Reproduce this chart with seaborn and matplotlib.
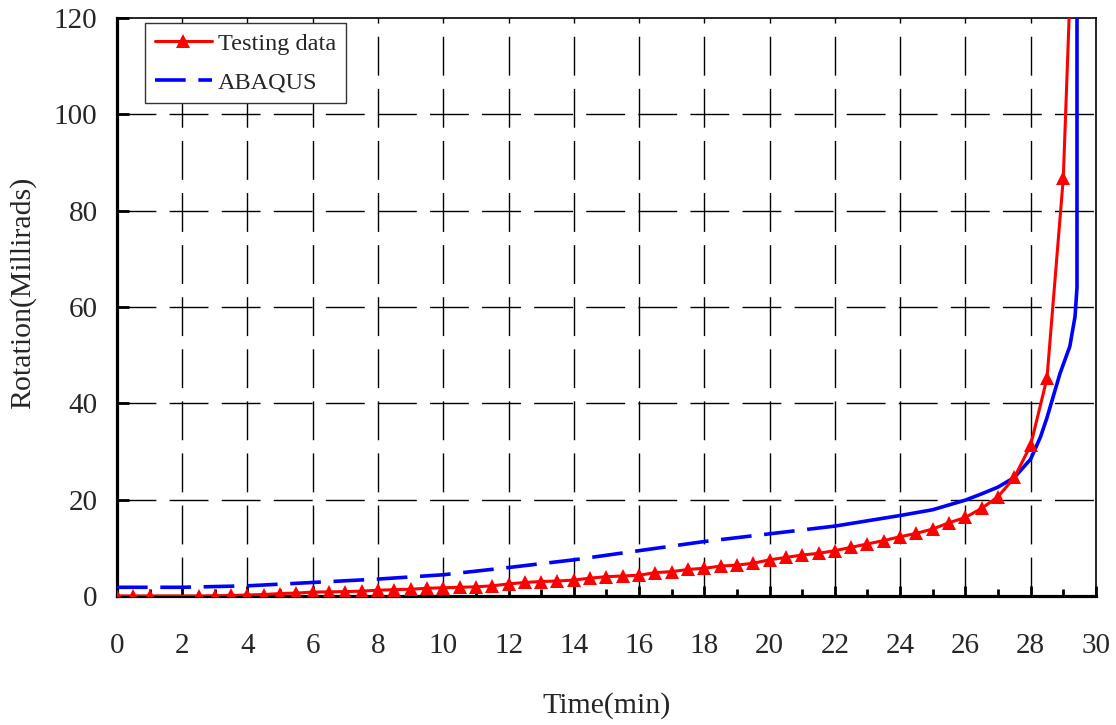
import numpy as np
import pandas as pd
import matplotlib
matplotlib.use("Agg")
import matplotlib.pyplot as plt
from matplotlib.ticker import MultipleLocator
import seaborn as sns

# Measured rotation of the specimen (testing data), sampled every half minute
test_time = [0.0, 0.5, 1.0, 2.5, 3.0, 3.5, 4.0, 4.5, 5.0, 5.5, 6.0, 6.5, 7.0, 7.5,
             8.0, 8.5, 9.0, 9.5, 10.0, 10.5, 11.0, 11.5, 12.0, 12.5, 13.0, 13.5,
             14.0, 14.5, 15.0, 15.5, 16.0, 16.5, 17.0, 17.5, 18.0, 18.5, 19.0,
             19.5, 20.0, 20.5, 21.0, 21.5, 22.0, 22.5, 23.0, 23.5, 24.0, 24.5,
             25.0, 25.5, 26.0, 26.5, 27.0, 27.5, 28.0, 28.5, 29.0, 29.5]
test_rotation = [0.0, 0.0, 0.0, 0.0, 0.05, 0.1, 0.2, 0.3, 0.5, 0.6, 0.8, 0.85, 0.9,
                 1.0, 1.2, 1.3, 1.4, 1.6, 1.7, 1.8, 1.9, 2.1, 2.5, 2.8, 3.0, 3.1,
                 3.3, 3.7, 4.0, 4.15, 4.3, 4.85, 5.05, 5.5, 5.75, 6.2, 6.4, 6.8,
                 7.5, 8.0, 8.5, 8.85, 9.4, 10.1, 10.8, 11.5, 12.3, 13.0, 13.9,
                 15.2, 16.3, 18.2, 20.6, 24.6, 31.3, 45.2, 86.7, 180.0]

# Finite element prediction (ABAQUS)
fe_time = [0.0, 2.0, 4.0, 6.0, 8.0, 10.0, 12.0, 14.0, 16.0, 18.0, 20.0, 22.0,
           24.0, 25.0, 26.0, 26.5, 27.0, 27.5, 28.0, 28.3, 28.5, 28.9, 29.2,
           29.36, 29.42, 29.42]
fe_rotation = [1.8, 1.8, 2.1, 2.8, 3.5, 4.4, 5.9, 7.5, 9.4, 11.3, 12.9, 14.5,
               16.7, 17.9, 19.9, 21.2, 22.6, 24.6, 28.4, 33.0, 37.0, 46.2, 51.8,
               58.0, 64.0, 130.0]

x_ticks = list(range(0, 31, 2))
y_ticks = list(range(0, 121, 20))

sns.set_theme(style="white")
plt.rcParams["font.family"] = ["Liberation Serif", "DejaVu Serif"]

fig = plt.figure(figsize=(11.16, 7.25), dpi=100)
ax = fig.add_axes([0.1048, 0.178, 0.8772, 0.7972])

grid_dash = (0, (28, 9.5))
ax.set_axisbelow(True)
for xv in x_ticks[1:-1]:
    ax.axvline(xv, color="black", lw=1.0, linestyle=grid_dash, zorder=0)
for yv in y_ticks[1:-1]:
    ax.axhline(yv, color="black", lw=1.0, linestyle=grid_dash, zorder=0)

test_df = pd.DataFrame({"t": test_time, "r": test_rotation})
fe_df = pd.DataFrame({"t": fe_time, "r": fe_rotation})
split = 11  # index of t = 22 min; the dense upper branch is drawn solid
fe_low = fe_df.iloc[:split + 1]
fe_high = fe_df.iloc[split:]

blue = "#0000FF"
red = "#FF0000"

sns.lineplot(data=fe_low, x="t", y="r", ax=ax, color=blue, lw=2.6,
             linestyle=(0, (8.5, 3.5)), estimator=None, sort=False,
             label="ABAQUS", zorder=3)
sns.lineplot(data=fe_high, x="t", y="r", ax=ax, color=blue, lw=2.6,
             estimator=None, sort=False, zorder=3)
sns.lineplot(data=test_df, x="t", y="r", ax=ax, color=red, lw=2.2,
             marker="^", markersize=9.5, markeredgewidth=0, markeredgecolor=red,
             estimator=None, sort=False, label="Testing data", zorder=4)

ax.set_xlim(0, 30)
ax.set_ylim(0, 120)
ax.set_xticks(x_ticks)
ax.set_yticks(y_ticks)
ax.xaxis.set_minor_locator(MultipleLocator(1))

ax.tick_params(axis="x", which="major", direction="in", length=7, width=2.0,
               color="black", labelsize=21, pad=27, bottom=True, top=False)
ax.tick_params(axis="x", which="minor", direction="in", length=5, width=2.0,
               color="black", bottom=True, top=False)
ax.tick_params(axis="y", which="major", direction="in", length=8.5, width=2.0,
               color="black", labelsize=21, pad=14, left=True, right=False)

for side in ("left", "bottom"):
    ax.spines[side].set_linewidth(2.3)
    ax.spines[side].set_color("black")
for side in ("top", "right"):
    ax.spines[side].set_linewidth(1.2)
    ax.spines[side].set_color("black")

ax.set_xlabel("Time(min)", fontsize=21.5)
ax.set_ylabel("Rotation(Millirads)", fontsize=21.5)
ax.xaxis.set_label_coords(0.5, -0.166)
ax.yaxis.set_label_coords(-0.083, 0.524)

handles, labels = ax.get_legend_handles_labels()
order = [labels.index("Testing data"), labels.index("ABAQUS")]
leg = ax.legend([handles[i] for i in order], [labels[i] for i in order],
                loc="upper left", bbox_to_anchor=(0.0286, 0.991),
                borderaxespad=0, fontsize=17.5, frameon=True, fancybox=False,
                framealpha=1, edgecolor="#333333", handlelength=2.35,
                handletextpad=0.25, labelspacing=0.68, borderpad=0.4)
leg.get_frame().set_linewidth(1.0)

fig.savefig("out.png", dpi=100)
